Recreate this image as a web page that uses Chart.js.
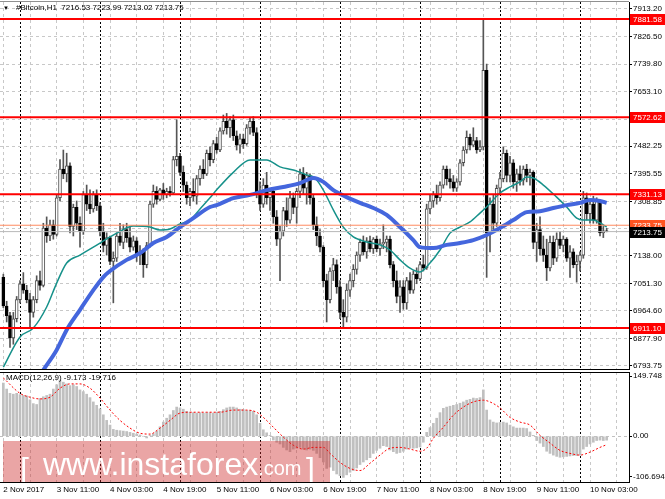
<!DOCTYPE html>
<html>
<head>
<meta charset="utf-8">
<script src="https://cdn.jsdelivr.net/npm/chart.js@4.4.0/dist/chart.umd.min.js"></script>
<style>
  html, body { margin: 0; padding: 0; background: #fff; }
  #wrap { position: relative; width: 665px; height: 499px; overflow: hidden; font-family: 'Liberation Sans', Arial, sans-serif; }
  canvas { position: absolute; left: 0; }
  #cMain { top: 0; }
  #cMacd { top: 371px; }
  .txt { position: absolute; font-size: 8px; line-height: 10px; color: #000; white-space: pre; }
  #brand { position: absolute; left: 3px; top: 441px; width: 327px; height: 41px; background: rgba(205, 40, 40, 0.42); color: #fff; overflow: hidden; }
  #brand span { position: absolute; white-space: pre; line-height: 1; }
</style>
</head>
<body>
<div id="wrap">
  <canvas id="cMain" width="665" height="371"></canvas>
  <canvas id="cMacd" width="665" height="128"></canvas>
  <div class="txt" style="left:3px; top:3px; font-size:6px;">&#9660;</div>
  <div class="txt" style="left:16px; top:3px;">#Bitcoin,H1  7216.53 7223.99 7213.02 7213.75</div>
  <div class="txt" style="left:6px; top:373px;">MACD(12,26,9) -9.173 -19.716</div>
  <div id="brand">
    <span style="left:17px; top:12px; font-size:32px;">[</span>
    <span style="left:40px; top:7px; font-size:32px;">www.instaforex<span style="position:static; font-size:20px;">.com</span></span>
    <span style="left:303px; top:12px; font-size:32px;">]</span>
  </div>
</div>

<script>
// Hourly #Bitcoin candles, 2 Nov 19:00 .. 10 Nov 08:00 (bar index 0..181)
const opens = [
  7070,6980,6950,6880,6940,7000,7050,7030,7000,6960,
  7000,7060,7045,7225,7200,7235,7205,7320,7410,7395,
  7420,7230,7290,7240,7215,7330,7300,7285,7330,7295,
  7215,7170,7195,7120,7130,7200,7180,7220,7195,7165,
  7185,7140,7150,7110,7170,7300,7340,7315,7345,7330,
  7340,7335,7440,7450,7400,7360,7320,7340,7325,7380,
  7410,7395,7460,7440,7490,7470,7530,7560,7540,7565,
  7515,7485,7505,7490,7540,7560,7525,7335,7300,7360,
  7320,7340,7260,7190,7215,7280,7250,7320,7290,7340,
  7395,7350,7390,7320,7235,7200,7165,7060,7000,7090,
  7110,7040,6960,6945,7030,7060,7095,7140,7180,7150,
  7185,7160,7190,7160,7175,7180,7190,7110,7060,7010,
  7040,6990,7060,7030,7080,7065,7110,7100,7285,7310,
  7330,7320,7360,7410,7380,7370,7350,7370,7430,7470,
  7510,7485,7500,7470,7480,7720,7210,7300,7240,7350,
  7380,7460,7390,7430,7370,7395,7375,7410,7390,7400,
  7180,7220,7160,7140,7100,7180,7130,7190,7170,7190,
  7130,7150,7110,7120,7140,7320,7270,7300,7250,7310,
  7210,7216.53
];
const highs = [
  7080,6995,6960,6960,7010,7060,7085,7045,7020,7010,
  7075,7090,7240,7260,7250,7250,7330,7440,7470,7460,
  7430,7300,7310,7260,7340,7360,7345,7340,7345,7305,
  7240,7210,7200,7150,7210,7240,7235,7240,7230,7200,
  7195,7170,7160,7180,7310,7360,7355,7350,7365,7350,
  7355,7450,7565,7460,7420,7370,7350,7380,7390,7420,
  7440,7470,7480,7500,7510,7540,7580,7585,7575,7580,
  7530,7520,7520,7550,7570,7575,7540,7370,7380,7400,
  7350,7345,7280,7230,7290,7320,7340,7335,7350,7410,
  7415,7400,7395,7330,7260,7220,7170,7080,7100,7130,
  7125,7060,7000,7050,7080,7110,7150,7190,7200,7195,
  7200,7195,7200,7190,7235,7200,7200,7120,7090,7060,
  7060,7070,7085,7090,7100,7120,7140,7300,7330,7340,
  7360,7370,7420,7420,7410,7390,7380,7440,7480,7530,
  7520,7540,7510,7500,7880,7740,7320,7330,7360,7400,
  7480,7470,7450,7440,7410,7420,7420,7425,7410,7405,
  7240,7260,7200,7190,7200,7200,7210,7215,7200,7195,
  7170,7160,7140,7150,7340,7335,7310,7325,7320,7315,
  7230,7223.99
];
const lows = [
  6975,6930,6850,6860,6930,6990,7020,6990,6915,6945,
  6990,7030,7040,7180,7185,7190,7200,7310,7380,7370,
  7210,7200,7220,7165,7205,7280,7270,7275,7280,7200,
  7150,7140,7110,6990,7120,7170,7160,7180,7150,7155,
  7120,7110,7070,7100,7165,7290,7300,7310,7315,7320,
  7325,7330,7420,7390,7340,7300,7295,7310,7300,7360,
  7380,7390,7420,7430,7460,7465,7520,7520,7510,7500,
  7470,7460,7475,7485,7520,7515,7320,7280,7290,7300,
  7280,7240,7170,7060,7200,7230,7240,7270,7240,7320,
  7330,7300,7300,7220,7170,7150,7040,6930,6990,7060,
  7020,6940,6915,6930,7010,7040,7080,7120,7140,7130,
  7150,7145,7150,7140,7160,7150,7100,7040,6990,6960,
  6970,6970,7020,7020,7050,7060,7090,7095,7270,7290,
  7300,7310,7350,7360,7350,7340,7340,7360,7420,7460,
  7470,7480,7460,7465,7470,7070,7150,7220,7230,7330,
  7370,7370,7370,7350,7340,7360,7360,7370,7360,7160,
  7120,7140,7120,7060,7090,7110,7120,7160,7150,7120,
  7070,7100,7055,7090,7130,7250,7240,7240,7240,7200,
  7195,7213.02
];
const closes = [
  6980,6950,6880,6940,7000,7050,7030,7000,6960,7000,
  7060,7045,7225,7200,7235,7205,7320,7410,7395,7420,
  7230,7290,7240,7215,7330,7300,7285,7330,7295,7215,
  7170,7195,7120,7130,7200,7180,7220,7195,7165,7185,
  7140,7150,7110,7170,7300,7340,7315,7345,7330,7340,
  7335,7440,7450,7400,7360,7320,7340,7325,7380,7410,
  7395,7460,7440,7490,7470,7530,7560,7540,7565,7515,
  7485,7505,7490,7540,7560,7525,7335,7300,7360,7320,
  7340,7260,7190,7215,7280,7250,7320,7290,7340,7395,
  7350,7390,7320,7235,7200,7165,7060,7000,7090,7110,
  7040,6960,6945,7030,7060,7095,7140,7180,7150,7185,
  7160,7190,7160,7175,7180,7190,7110,7060,7010,7040,
  6990,7060,7030,7080,7065,7110,7100,7285,7310,7330,
  7320,7360,7410,7380,7370,7350,7370,7430,7470,7510,
  7485,7500,7470,7480,7720,7210,7300,7240,7350,7380,
  7460,7390,7430,7370,7395,7375,7410,7390,7400,7180,
  7220,7160,7140,7100,7180,7130,7190,7170,7190,7130,
  7150,7110,7120,7140,7320,7270,7300,7250,7310,7210,
  7216.53,7213.75
];

// moving averages: [bar index, price]
const maTeal = [
  [0,6788],[5,6883],[9,6911],[13,6977],[16,7052],[19,7115],[23,7140],[27,7165],[32,7197],[34,7209],
  [39,7231],[44,7228],[47,7219],[50,7222],[53,7238],[56,7250],[59,7285],[62,7320],[64,7345],[69,7400],
  [74,7439],[79,7439],[83,7417],[87,7407],[91,7392],[93.5,7382],[96,7344],[99,7282],[102,7228],[105,7197],
  [109,7181],[113,7172],[116,7156],[119,7125],[122,7099],[125,7087],[128,7115],[131,7156],[134,7209],[137,7228],
  [140,7244],[143,7272],[145,7291],[149,7335],[152,7354],[155,7370],[157,7385],[159,7382],[162,7360],[166,7322],
  [169,7291],[172,7256],[174,7250],[177,7250],[179,7241],[181,7228]
];
const maBlue = [
  [9,6730],[12,6779],[16,6842],[19,6905],[23,6968],[27,7030],[30,7071],[32,7090],[37,7125],[41,7146],
  [45,7178],[49,7197],[53,7228],[57,7256],[62,7291],[64,7297],[69,7319],[74,7329],[79,7344],[84,7354],
  [89,7366],[93,7382],[96,7370],[99,7344],[103,7322],[107,7304],[111,7288],[115,7266],[119,7228],[123,7187],
  [125,7165],[129,7162],[133,7172],[137,7178],[141,7187],[145,7203],[149,7225],[153,7250],[157,7275],[161,7278],
  [165,7288],[169,7297],[173,7304],[176,7313],[179,7310],[181,7304]
];

// MACD(12,26,9)
const macdHist = [
  124,110,100,98,100,97,95,94,85,76,
  74,88,92,95,98,110,120,131,126,122,
  118,120,116,108,104,98,90,80,72,64,
  50,37,26,16,14,13,12,11,9,7,
  5,3,0,-4,2,6,12,22,33,42,
  50,60,68,66,63,58,56,55,54,55,
  54,55,55,54,56,58,62,66,68,68,
  66,63,62,60,60,58,50,30,15,8,
  2,-9,-14,-18,-26,-32,-36,-30,-28,-26,
  -30,-32,-30,-33,-40,-50,-60,-75,-72,-80,
  -88,-92,-96,-90,-84,-80,-74,-66,-60,-55,
  -50,-40,-33,-28,-22,-24,-32,-36,-40,-38,
  -35,-30,-28,-28,-27,-25,-14,9,20,30,
  42,55,65,68,70,72,74,77,80,84,
  86,89,88,90,108,61,38,33,31,32,
  33,31,26,22,19,19,19,18,10,2,
  -10,-16,-24,-35,-40,-44,-47,-49,-48,-47,
  -46,-45,-45,-44,-30,-24,-18,-14,-10,-9,
  -10,-9.173
];
const macdSignal = [
  [0,136],[5,100],[8,91],[11,87],[14,91],[17,112],[20,122],[23,122],[26,112],[29,89],
  [32,61],[35,37],[38,19],[41,7],[44,5],[47,19],[50,37],[53,54],[56,56],[61,56],
  [65,56],[69,61],[73,61],[76,56],[78,44],[81,21],[84,-2],[87,-21],[90,-30],[93,-26],
  [96,-26],[98,-40],[101,-61],[104,-75],[107,-80],[110,-63],[113,-44],[116,-28],[119,-26],[122,-30],
  [125,-35],[127,-28],[129,-5],[132,21],[135,49],[138,68],[141,80],[144,84],[146,80],[149,66],
  [152,44],[155,33],[158,26],[161,2],[164,-16],[167,-33],[170,-40],[173,-44],[176,-37],[179,-26],
  [181,-19.716]
];

// levels and axes
const redLevels = [7881.58, 7572.62, 7331.13, 6911.10];
const askLevel = 7233.75;
const bidLevel = 7213.75;
const priceGrid = [7913.20, 7826.50, 7739.80, 7653.10, 7566.40, 7482.25, 7395.55, 7308.85, 7223.40, 7138.00, 7051.30, 6964.60, 6877.90, 6793.75];
const priceHidden = [7566.40, 7223.40];
const timeLabels = ['2 Nov 2017', '3 Nov 11:00', '4 Nov 03:00', '4 Nov 19:00', '5 Nov 11:00', '6 Nov 03:00',
  '6 Nov 19:00', '7 Nov 11:00', '8 Nov 03:00', '8 Nov 19:00', '9 Nov 11:00', '10 Nov 03:00'];
const dayStarts = [5, 29, 53, 77, 101, 125, 149, 173];
const macdTickLabels = ['149.748', '0.00', '-106.694'];

const X_MIN = -1, X_MAX = 187.7;
const FONT = "'Liberation Sans', Arial, sans-serif";
Chart.defaults.font.family = FONT;
Chart.defaults.font.size = 8;
Chart.defaults.color = '#000';
Chart.defaults.animation = false;

const gridEvery8 = [];
for (let i = 0; i <= X_MAX; i += 8) gridEvery8.push(i);

function setTicks(values) {
  return s => { s.ticks = values.map(v => ({ value: v })); };
}
function flatX(s) { s.height = 0; s.paddingLeft = 0; s.paddingRight = 0; }

const up = i => closes[i] >= opens[i];

// horizontal level lines as two-point line datasets
const levelLine = (v, color, w) => ({
  type: 'line', data: [{ x: X_MIN, y: v }, { x: X_MAX, y: v }],
  borderColor: color, borderWidth: w, pointRadius: 0, order: 0
});

const priceBoxes = {
  id: 'priceBoxes',
  afterDraw(chart) {
    const { ctx, chartArea, scales } = chart;
    const boxes = redLevels.map(v => [v, '#ff0000']).concat([[askLevel, '#ff5522'], [bidLevel, '#000000']]);
    ctx.save();
    // top frame
    ctx.strokeStyle = '#909090';
    ctx.lineWidth = 1;
    ctx.beginPath();
    ctx.moveTo(0, chartArea.top - 0.5);
    ctx.lineTo(chartArea.right, chartArea.top - 0.5);
    ctx.stroke();
    ctx.font = '8px ' + FONT;
    ctx.textBaseline = 'middle';
    boxes.forEach(([v, col]) => {
      const py = Math.round(scales.y.getPixelForValue(v));
      ctx.fillStyle = col;
      ctx.fillRect(chartArea.right + 1, py - 5, chart.width - chartArea.right - 1, 11);
      ctx.fillStyle = '#fff';
      ctx.fillText(v.toFixed(2), chartArea.right + 4, py + 0.5);
    });
    ctx.restore();
  }
};

const topFrame = {
  id: 'topFrame',
  afterDraw(chart) {
    const { ctx, chartArea } = chart;
    ctx.save();
    ctx.strokeStyle = '#000';
    ctx.lineWidth = 1;
    ctx.beginPath();
    ctx.moveTo(0, chartArea.top + 0.5);
    ctx.lineTo(chartArea.right, chartArea.top + 0.5);
    ctx.stroke();
    ctx.restore();
  }
};

// ---- price window
new Chart(document.getElementById('cMain'), {
  type: 'bar',
  data: {
    datasets: [
      ...redLevels.map(v => levelLine(v, '#ff0000', 2)),
      levelLine(askLevel, '#ff8a60', 1),
      levelLine(bidLevel, '#b8b8b8', 1),
      {
        type: 'line', label: 'MA slow', data: maBlue.map(([x, y]) => ({ x, y })),
        borderColor: '#4466dd', borderWidth: 4, pointRadius: 0, cubicInterpolationMode: 'monotone', order: 1
      },
      {
        type: 'line', label: 'MA fast', data: maTeal.map(([x, y]) => ({ x, y })),
        borderColor: '#16918a', borderWidth: 1.5, pointRadius: 0, cubicInterpolationMode: 'monotone', order: 2
      },
      {
        label: 'body', data: opens.map((o, i) => ({ x: i, y: [o, closes[i]] })),
        backgroundColor: opens.map((o, i) => up(i) ? '#ffffff' : '#000000'),
        borderColor: opens.map((o, i) => up(i) ? '#505050' : '#000000'),
        borderWidth: 1, borderSkipped: false, barThickness: 3, grouped: false, order: 3
      },
      {
        label: 'wick', data: highs.map((h, i) => ({ x: i, y: [lows[i], h] })),
        backgroundColor: '#555555', barThickness: 1, grouped: false, order: 4
      }
    ]
  },
  options: {
    responsive: false,
    maintainAspectRatio: false,
    layout: { padding: { top: 2, bottom: 2, left: 0, right: 0 } },
    plugins: { legend: { display: false }, tooltip: { enabled: false } },
    scales: {
      x: {
        type: 'linear', min: X_MIN, max: X_MAX, offset: false, position: 'bottom',
        ticks: { display: false },
        grid: { color: '#c8c8c8', drawTicks: false, offset: false, borderDash: [3, 3] },
        border: { display: true, color: '#000', dash: [3, 3] },
        afterBuildTicks: setTicks(gridEvery8), afterFit: flatX
      },
      xd: {
        type: 'linear', min: X_MIN, max: X_MAX, offset: false, position: 'bottom',
        ticks: { display: false },
        grid: { color: '#000', drawTicks: false, offset: false, borderDash: [2, 2] },
        border: { display: false, dash: [2, 2] },
        afterBuildTicks: setTicks(dayStarts), afterFit: flatX
      },
      y: {
        position: 'right', min: 6782.2, max: 7935,
        grid: { color: '#c8c8c8', tickColor: '#000', tickLength: 3, borderDash: [3, 3] },
        border: { display: true, color: '#000', dash: [3, 3] },
        ticks: {
          padding: 1, autoSkip: false,
          callback: v => priceHidden.includes(v) ? '' : v.toFixed(2)
        },
        afterBuildTicks: setTicks(priceGrid),
        afterFit: s => { s.width = 36; s.paddingTop = 0; s.paddingBottom = 0; }
      }
    }
  },
  plugins: [priceBoxes]
});

// ---- MACD window
new Chart(document.getElementById('cMacd'), {
  type: 'bar',
  data: {
    datasets: [
      {
        type: 'line', label: 'signal', data: macdSignal.map(([x, y]) => ({ x, y })),
        borderColor: '#ff0000', borderWidth: 1, borderDash: [2, 2], pointRadius: 0,
        cubicInterpolationMode: 'monotone', order: 0
      },
      {
        label: 'MACD', data: macdHist.map((v, i) => ({ x: i, y: v })),
        backgroundColor: '#c0c0c0', barThickness: 2, grouped: false, order: 1
      }
    ]
  },
  options: {
    responsive: false,
    maintainAspectRatio: false,
    layout: { padding: { top: 1, bottom: 0, left: 0, right: 0 } },
    plugins: { legend: { display: false }, tooltip: { enabled: false } },
    scales: {
      x: {
        type: 'linear', min: X_MIN, max: X_MAX, offset: false, position: 'bottom',
        grid: { color: '#c8c8c8', drawTicks: false, offset: false, borderDash: [3, 3] },
        border: { display: true, color: '#000', dash: [3, 3] },
        ticks: {
          align: 'start', padding: 3, autoSkip: false, maxRotation: 0, minRotation: 0,
          callback: v => (v % 16 === 0 ? timeLabels[v / 16] : '')
        },
        afterBuildTicks: setTicks(gridEvery8),
        afterFit: s => { s.height = 17; s.paddingLeft = 0; s.paddingRight = 0; }
      },
      xd: {
        type: 'linear', min: X_MIN, max: X_MAX, offset: false, position: 'bottom',
        ticks: { display: false },
        grid: { color: '#000', drawTicks: false, offset: false, borderDash: [2, 2] },
        border: { display: false, dash: [2, 2] },
        afterBuildTicks: setTicks(dayStarts), afterFit: flatX
      },
      y: {
        position: 'right', min: -106.694, max: 149.748,
        grid: {
          color: c => (c.tick && c.tick.value === 0 ? '#c0c0c0' : 'rgba(0,0,0,0)'),
          tickColor: '#000', tickLength: 3, borderDash: [3, 3]
        },
        border: { display: true, color: '#000', dash: [3, 3] },
        ticks: { padding: 1, autoSkip: false, callback: (v, i) => macdTickLabels[i] },
        afterBuildTicks: s => {
          // keep the edge labels just inside the window, as the terminal does
          const unit = (s.max - s.min) / (s.bottom - s.top || 110);
          s.ticks = [{ value: s.max - 4 * unit }, { value: 0 }, { value: s.min + 5 * unit }];
        },
        afterFit: s => { s.width = 36; s.paddingTop = 0; s.paddingBottom = 0; }
      }
    }
  },
  plugins: [topFrame]
});
</script>
</body>
</html>
